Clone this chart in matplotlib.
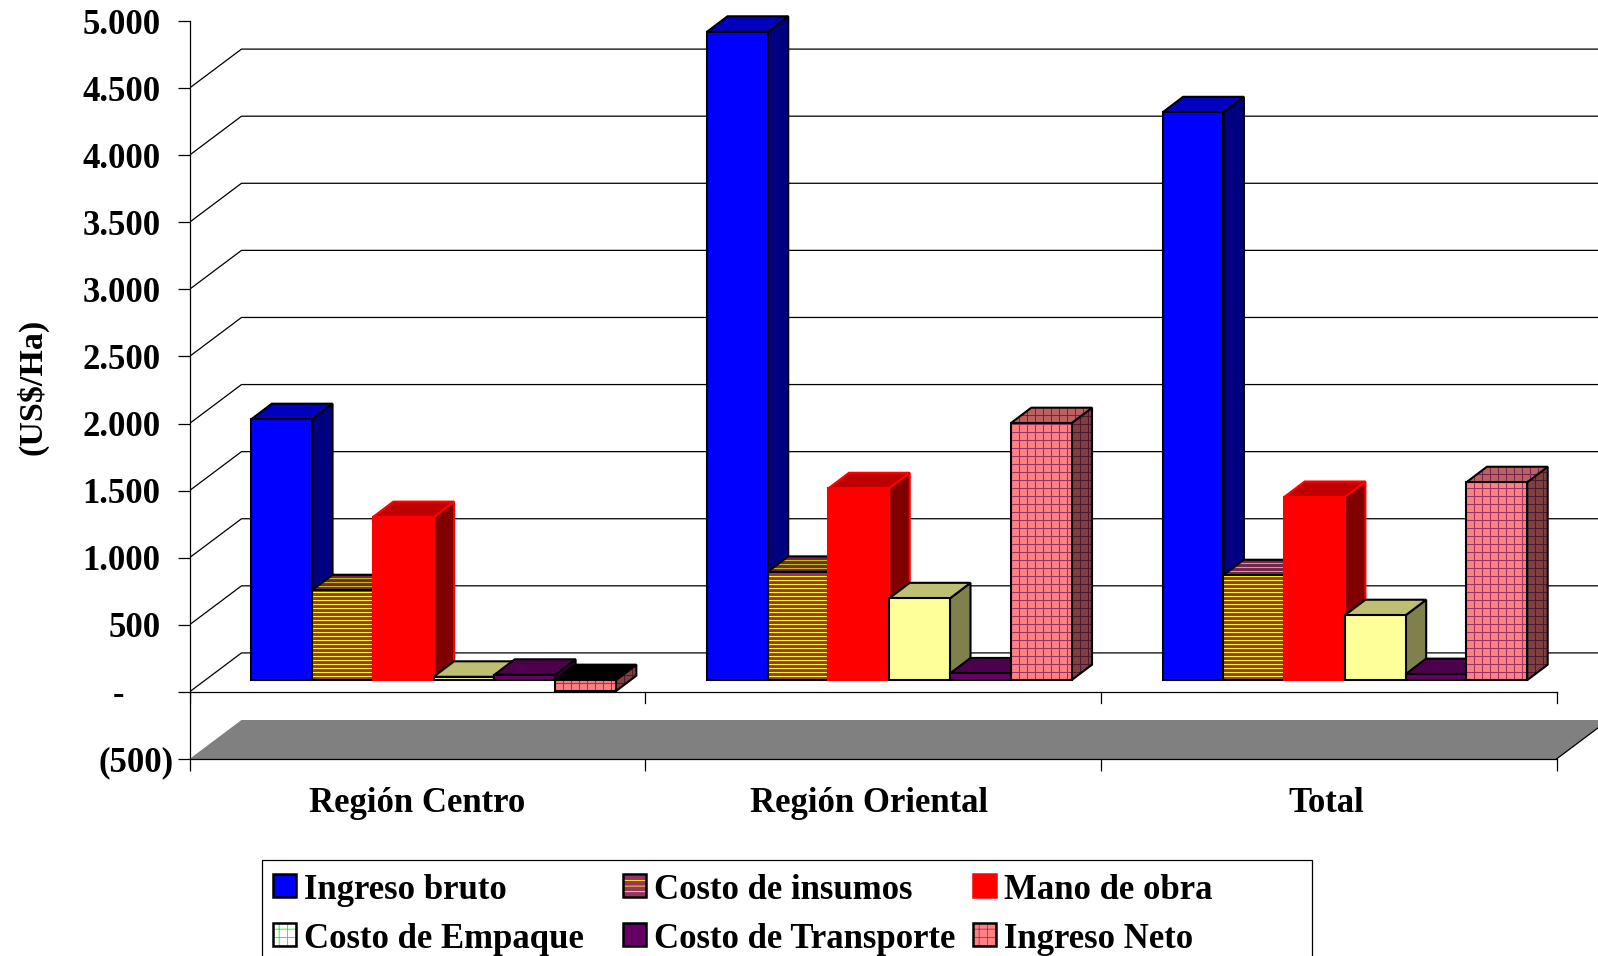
import matplotlib
matplotlib.use("Agg")
import matplotlib.pyplot as plt
import numpy as np
from matplotlib.patches import Polygon, Rectangle

plt.rcParams['font.family'] = ['Liberation Serif', 'DejaVu Serif']
plt.rcParams['font.weight'] = 'bold'
plt.rcParams['hatch.linewidth'] = 0.6

categories = ['Región Centro', 'Región Oriental', 'Total']
series = ['Ingreso bruto', 'Costo de insumos', 'Mano de obra',
          'Costo de Empaque', 'Costo de Transporte', 'Ingreso Neto']

ingreso_bruto = [1945, 4832, 4232]
costo_insumos = [670, 807, 782]
mano_obra = [1215, 1430, 1365]
costo_empaque = [25, 610, 484]
costo_transporte = [40, 50, 45]
ingreso_neto = [-82, 1915, 1475]
values = [ingreso_bruto, costo_insumos, mano_obra, costo_empaque, costo_transporte, ingreso_neto]

y_ticks = [-500, 0, 500, 1000, 1500, 2000, 2500, 3000, 3500, 4000, 4500, 5000]
y_labels = ['(500)', '-', '500', '1.000', '1.500', '2.000', '2.500', '3.000',
            '3.500', '4.000', '4.500', '5.000']

# front, top, side fill, pattern colours (front/top/side) and edge per series
styles = [
    dict(front='#0000ff', top='#0000bf', side='#000080', pattern=None, edge='black'),
    dict(front='#993366', top='#73264d', side='#4d1a33', pattern='stripes',
         pc=('#ffff00', '#bfbf00', '#808000'), edge='black'),
    dict(front='#ff0000', top='#bf0000', side='#800000', pattern=None, edge='#ff0000'),
    dict(front='#ffff99', top='#bfbf73', side='#80804d', pattern=None, edge='black'),
    dict(front='#660066', top='#4d004d', side='#330033', pattern=None, edge='black'),
    dict(front='#ff8080', top='#bf6060', side='#804040', pattern='grid',
         pc=('#993366', '#73264d', '#4d1a33'), edge='black'),
]

W, H = 1598, 956
GROUP_PX = 455.67
VALUE_PX = 0.1342   # pixels per US$
LEFT, BOTTOM = 189.5, 759

fig = plt.figure(figsize=(W / 100, H / 100), dpi=100, facecolor='white')
ax = fig.add_axes([LEFT / W, 1 - BOTTOM / H, (W - LEFT) / W, (BOTTOM - 21) / H])
ax.set_xlim(0, (W - LEFT) / GROUP_PX)
ax.set_ylim(-500, 5000)

# oblique depth of the wall and of one bar, in data units
wall_dx, wall_dy = 52 / GROUP_PX, 39 / VALUE_PX
bar_dx, bar_dy = 20.5 / GROUP_PX, 15.5 / VALUE_PX
off_dx, off_dy = (wall_dx - bar_dx) / 2 + 0.5 / GROUP_PX, (wall_dy - bar_dy) / 2
xmax = ax.get_xlim()[1]

for s in ['top', 'right']:
    ax.spines[s].set_visible(False)
ax.spines['left'].set_linewidth(0.9)
ax.spines['bottom'].set_linewidth(0.9)
ax.spines['bottom'].set_bounds(0, 3)
ax.set_xticks([0, 1, 2, 3])
ax.set_xticklabels([])
ax.set_yticks(y_ticks)
ax.set_yticklabels([])
ax.tick_params(axis='both', direction='out', length=8.6, width=0.9)

# floor below the zero line
ax.add_patch(Polygon([(0, -500), (wall_dx, -500 + wall_dy), (3 + wall_dx, -500 + wall_dy), (3, -500)],
                     closed=True, fc='#808080', ec='none', zorder=1))
ax.plot([3, 3 + wall_dx], [-500, -500 + wall_dy], color='black', lw=0.9, zorder=2)

# wall gridlines
for v in y_ticks[1:-1]:
    ax.plot([0, wall_dx, xmax], [v, v + wall_dy, v + wall_dy], color='black', lw=0.9, zorder=1.5)

# front zero axis with its ticks
ax.plot([0, 3], [0, 0], color='black', lw=0.9, zorder=2)
for i in range(4):
    ax.plot([i, i], [0, -80], color='black', lw=0.9, zorder=2)


def face(points, fc, pattern, pc, edge, z):
    poly = Polygon(points, closed=True, fc=fc, ec='none', zorder=z, clip_on=False)
    ax.add_patch(poly)
    xs = [p[0] for p in points]
    ys = [p[1] for p in points]
    # pattern lines run at a fixed pixel pitch and are cut to the face
    if pattern == 'stripes':
        rows = np.arange(min(ys), max(ys), 4 / VALUE_PX)
        lines = [ax.hlines(rows, min(xs), max(xs), colors=pc, lw=0.75, zorder=z + 0.005)]
    elif pattern == 'grid':
        rows = np.arange(min(ys), max(ys), 8 / VALUE_PX)
        cols = np.arange(min(xs), max(xs), 8 / GROUP_PX)
        lines = [ax.hlines(rows, min(xs), max(xs), colors=pc, lw=0.75, zorder=z + 0.005),
                 ax.vlines(cols, min(ys), max(ys), colors=pc, lw=0.75, zorder=z + 0.005)]
    else:
        lines = []
    for ln in lines:
        ln.set_clip_path(poly)
    ax.add_patch(Polygon(points, closed=True, fill=False, ec=edge, lw=1.5, zorder=z + 0.01,
                         joinstyle='miter', clip_on=False))


bar_w = 0.8 / len(series)
z = 3
for g in range(len(categories)):
    for k, st in enumerate(styles):
        v = values[k][g]
        x0 = g + 0.1 + k * bar_w + off_dx
        x1 = x0 + bar_w
        y0 = off_dy
        y1 = off_dy + v
        pattern = st['pattern']
        pc = st.get('pc', (None, None, None))
        # a bar below zero shows a black top
        top_fc = st['top'] if v >= 0 else 'black'
        top_pattern = pattern if v >= 0 else None
        top_y = max(y0, y1)
        face([(x1, y0), (x1 + bar_dx, y0 + bar_dy), (x1 + bar_dx, y1 + bar_dy), (x1, y1)],
             st['side'], pattern, pc[2], st['edge'], z)
        face([(x0, top_y), (x0 + bar_dx, top_y + bar_dy), (x1 + bar_dx, top_y + bar_dy), (x1, top_y)],
             top_fc, top_pattern, pc[1], st['edge'], z + 0.1)
        face([(x0, y0), (x1, y0), (x1, y1), (x0, y1)], st['front'], pattern, pc[0], st['edge'], z + 0.2)
        z += 1

ax.set_xlim(0, xmax)
ax.set_ylim(-500, 5000)

# value axis labels
for v, lab in zip(y_ticks, y_labels):
    shift = 16 if lab == '(500)' else (65 if lab == '-' else 29)
    ax.annotate(lab, (0, v), xytext=(-shift, 0), textcoords='offset pixels',
                ha='right', va='center_baseline', fontsize=25, annotation_clip=False)

ax.text(-0.345, 2270, '(US$/Ha)', rotation=90, ha='center', va='center', fontsize=24.5)

# category labels
cat_x = [417.5, 869.5, 1326]
for x, c in zip(cat_x, categories):
    fig.text(x / W, 1 - 804 / H, c, ha='center', va='center', fontsize=25)

# legend box, runs off the lower edge
fig.add_artist(Rectangle((262 / W, -0.05), (1312 - 262) / W, 1 - 860 / H + 0.05, fill=False, ec='black', lw=0.9,
                         transform=fig.transFigure))
legend_x = [273, 623, 973]
legend_y = [874, 923]
legend_fc = ['#0000ff', '#993366', '#ff0000', '#ffffff', '#660066', '#ff8080']
legend_hatch = [None, '---', None, '++', None, '++']
legend_hc = [None, '#ffff00', None, '#00ff00', None, '#993366']
legend_ec = ['black', 'black', '#ff0000', 'black', 'black', 'black']
for i, name in enumerate(series):
    sx = legend_x[i % 3]
    sy = legend_y[i // 3]
    rect = ((sx / W, 1 - (sy + 23) / H), 23 / W, 23 / H)
    if legend_hatch[i]:
        fig.add_artist(Rectangle(*rect, fc=legend_fc[i], ec=legend_hc[i], hatch=legend_hatch[i], lw=0,
                                 transform=fig.transFigure))
    else:
        fig.add_artist(Rectangle(*rect, fc=legend_fc[i], ec='none', transform=fig.transFigure))
    fig.add_artist(Rectangle(*rect, fill=False, ec=legend_ec[i], lw=1.8, transform=fig.transFigure))
    fig.text((sx + 31) / W, 1 - (sy + 16.5) / H, name, ha='left', va='center', fontsize=25)

fig.savefig('out.png', dpi=100)
